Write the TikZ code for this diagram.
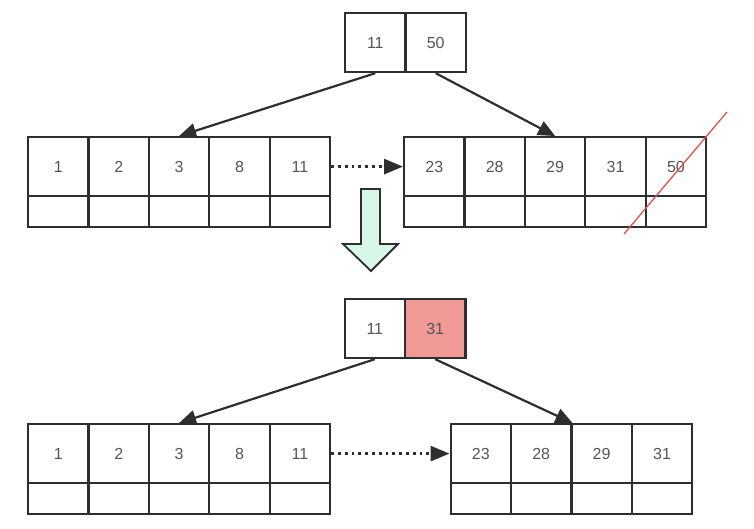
\documentclass[tikz,border=0pt]{standalone}
\usepackage{fontspec}
\setmainfont{Liberation Sans}
\usetikzlibrary{arrows.meta}
\definecolor{txt}{HTML}{555555}
\definecolor{ln}{HTML}{2E2E2E}
\definecolor{mint}{HTML}{D8F7E6}
\definecolor{hl}{HTML}{F09A98}
\definecolor{strike}{HTML}{D9534F}
\tikzset{
  cell/.style={draw=ln, line width=2.2pt, minimum width=60.4pt, minimum height=59pt, inner sep=0pt, anchor=north west, text=txt, font=\fontsize{16}{18}\selectfont},
  lowcell/.style={draw=ln, line width=2.2pt, minimum width=60.4pt, minimum height=31pt, inner sep=0pt, anchor=north west},
  link/.style={draw=ln, line width=2.2pt, -{Triangle[length=17pt,width=15pt]}},
  seq/.style={draw=ln, line width=2.8pt, dash pattern=on 2.8pt off 4pt, -{Triangle[length=19pt,width=15pt]}},
}
\begin{document}
\begin{tikzpicture}[x=1pt,y=-1pt]
\useasboundingbox (0,0) rectangle (754,528);
% top root
\node[cell] (t1) at (344,12) {11};
\node[cell] (t2) at (404.4,12) {50};
% top left leaf
\foreach \v [count=\i from 0] in {1,2,3,8,11} {
  \node[cell] (l\i) at (27+\i*60.4,136) {\v};
  \node[lowcell] (lb\i) at (27+\i*60.4,195) {};
}
% top right leaf
\foreach \v [count=\i from 0] in {23,28,29,31,50} {
  \node[cell] (r\i) at (403+\i*60.4,136) {\v};
  \node[lowcell] (rb\i) at (403+\i*60.4,195) {};
}
\draw[link] (t1.south) -- (l2.north);
\draw[link] (t2.south) -- (r2.north);
\draw[seq] (l4.east) -- (r0.west);
% strike line
\coordinate (s1) at (727,112);
\coordinate (s2) at (624,234);
\draw[strike, line width=1.3pt] (s1) -- (s2);
% big down arrow
\draw[ln, line width=1.8pt, fill=mint, line join=miter]
  (361,189) -- (380,189) -- (380,244) -- (398,244) -- (371,271) -- (343,244) -- (361,244) -- cycle;
% bottom root
\node[cell] (b1) at (343.5,298) {11};
\node[cell, fill=hl] (b2) at (403.9,298) {31};
% bottom left leaf
\foreach \v [count=\i from 0] in {1,2,3,8,11} {
  \node[cell] (bl\i) at (27+\i*60.4,423) {\v};
  \node[lowcell] (blb\i) at (27+\i*60.4,482) {};
}
% bottom right leaf
\foreach \v [count=\i from 0] in {23,28,29,31} {
  \node[cell] (br\i) at (449.5+\i*60.4,423) {\v};
  \node[lowcell] (brb\i) at (449.5+\i*60.4,482) {};
}
\draw[link] (b1.south) -- (bl2.north);
\draw[link] (b2.south) -- (br1.north east);
\draw[seq] (bl4.east) -- (br0.west);
\end{tikzpicture}
\end{document}
